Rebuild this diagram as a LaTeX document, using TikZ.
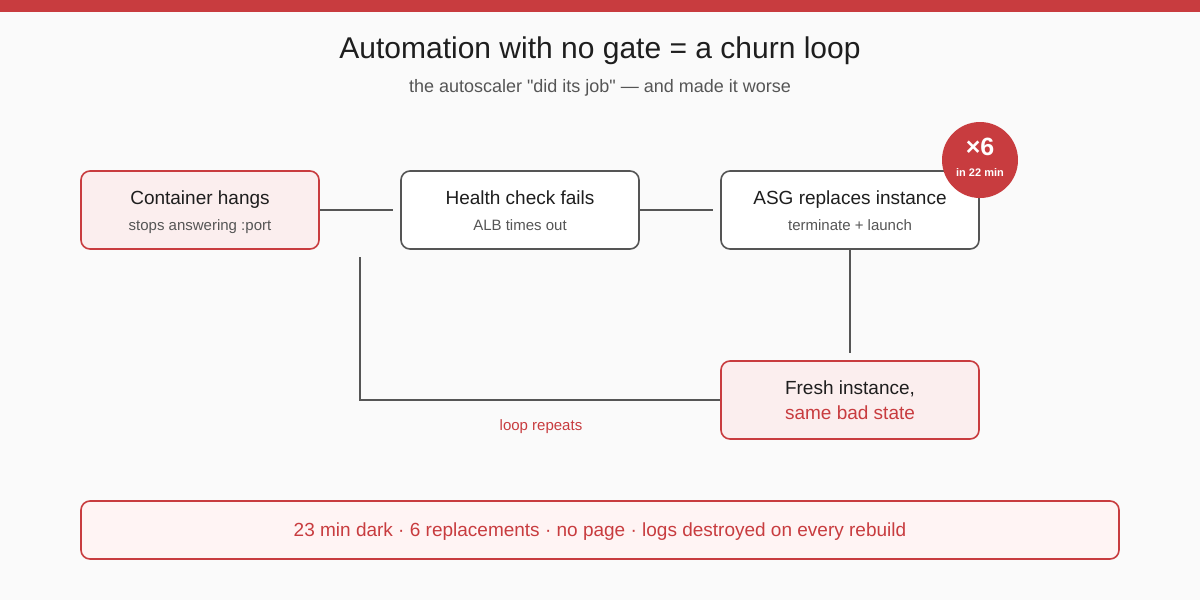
\documentclass[tikz,border=0pt]{standalone}
\usepackage{fontspec}
\setmainfont{Liberation Sans}
\usetikzlibrary{positioning}
\definecolor{alertred}{HTML}{C83C3F}
\definecolor{linegray}{HTML}{555555}
\definecolor{softpink}{HTML}{FBEEEE}
\definecolor{palepink}{HTML}{FFF4F4}
\definecolor{bggray}{HTML}{FAFAFA}
\definecolor{inkgray}{HTML}{1E1E1E}

\begin{document}
\begin{tikzpicture}[x=1pt, y=-1pt,
    box/.style={draw=linegray, line width=1.6pt, rounded corners=9pt, fill=white,
      minimum width=238pt, minimum height=78pt, inner sep=0pt},
    badbox/.style={box, draw=alertred, fill=softpink},
    head/.style={text=inkgray, font=\fontsize{19}{23}\selectfont, inner sep=0pt,
      text height=13.7pt, text depth=4pt},
    sub/.style={text=linegray, font=\fontsize{15}{18}\selectfont, inner sep=0pt,
      text height=10.8pt, text depth=3.2pt},
    link/.style={draw=linegray, line width=2pt}]
  \useasboundingbox (0,0) rectangle (1200,600);
  \fill[bggray] (0,0) rectangle (1200,600);
  \fill[alertred] (0,0) rectangle (1200,12);

  % heading
  \node[text=inkgray, font=\fontsize{30}{36}\selectfont, inner sep=0pt] (title) at (600,51)
    {Automation with no gate = a churn loop};
  \node[sub, font=\fontsize{18}{22}\selectfont, text height=13pt, text depth=3.8pt] (subtitle) at (600,88)
    {the autoscaler \textquotedbl did its job\textquotedbl{} — and made it worse};

  % the loop
  \node[badbox] (cont) at (200,210) {};
  \node[head] (contT) at (200,200) {Container hangs};
  \node[sub] (contS) at (200,227) {stops answering :port};

  \node[box] (health) at (520,210) {};
  \node[head] (healthT) at (520,200) {Health check fails};
  \node[sub] (healthS) at (520,227) {ALB times out};

  \node[box, minimum width=258pt] (asg) at (850,210) {};
  \node[head] (asgT) at (850,200) {ASG replaces instance};
  \node[sub] (asgS) at (850,227) {terminate + launch};

  \node[badbox, minimum width=258pt] (fresh) at (850,400) {};
  \node[head] (freshT) at (850,390) {Fresh instance,};
  \node[head, text=alertred] (freshS) at (850,415) {same bad state};

  \node[circle, fill=alertred, minimum size=76pt, inner sep=0pt] (badge) at (980,160) {};
  \node[text=white, font=\bfseries\fontsize{25}{28}\selectfont, inner sep=0pt,
    text height=18pt, text depth=0pt] (badgeT) at (980,146) {×6};
  \node[text=white, font=\bfseries\fontsize{11}{13}\selectfont, inner sep=0pt,
    text height=8pt, text depth=2.3pt] (badgeS) at (980,174) {in 22 min};

  \draw[link, shorten >=7pt] (cont.east) -- (health.west);
  \draw[link, shorten >=7pt] (health.east) -- (asg.west);
  \draw[link, shorten >=7pt] (asg.south) -- (fresh.north);
  \coordinate (loopend) at (360,257);
  \draw[link] (fresh.west) -| (loopend);
  \node[sub, text=alertred] (looplbl) at (541,427) {loop repeats};

  % summary strip
  \node[draw=alertred, line width=1.6pt, rounded corners=9pt, fill=palepink,
    minimum width=1038pt, minimum height=58pt, inner sep=0pt] (summary) at (600,530) {};
  \node[head, text=alertred] (summaryT) at (600,532)
    {23 min dark · 6 replacements · no page · logs destroyed on every rebuild};
\end{tikzpicture}
\end{document}
